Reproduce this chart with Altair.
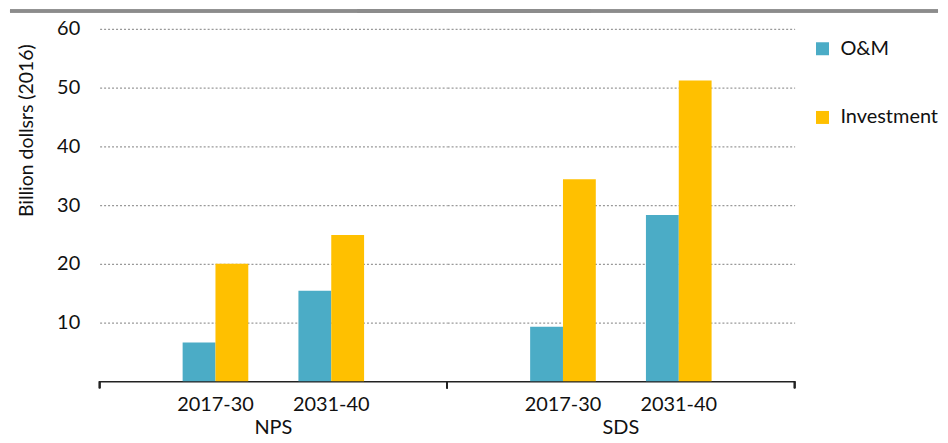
import altair as alt
import pandas as pd

scenarios = ["NPS", "SDS"]
periods = ["2017-30", "2031-40"]
series = ["O&M", "Investment"]
om_values = [6.6, 15.4, 9.3, 28.3]
inv_values = [20.0, 24.9, 34.4, 51.2]
y_ticks = [10, 20, 30, 40, 50, 60]
colors = ["#4BACC6", "#FFC000"]

rows = []
i = 0
for s in scenarios:
    for p in periods:
        rows.append({"scenario": s, "period": p, "series": "O&M", "value": om_values[i]})
        rows.append({"scenario": s, "period": p, "series": "Investment", "value": inv_values[i]})
        i += 1
df = pd.DataFrame(rows)

W = 349
H = 354
FONT = "Lato"

bars = alt.Chart().mark_bar().encode(
    x=alt.X(
        "period:N",
        sort=periods,
        scale=alt.Scale(paddingInner=0.433, paddingOuter=0.717),
        axis=alt.Axis(
            title=None, ticks=False, labelAngle=0, labelFontSize=20, labelFont=FONT,
            labelColor="#111", labelPadding=13, domainColor="#222", domainWidth=1.6,
        ),
    ),
    xOffset=alt.XOffset("series:N", sort=series, scale=alt.Scale(paddingInner=0, paddingOuter=0)),
    y=alt.Y(
        "value:Q",
        scale=alt.Scale(domain=[0, 60], nice=False),
        axis=alt.Axis(
            values=y_ticks, title="Billion dollsrs (2016)", titleFont=FONT, titleFontSize=19.5,
            titleFontWeight="normal", titleColor="#111", titleAnchor="end", titleY=15,
            titlePadding=20, labelFont=FONT, labelFontSize=20, labelColor="#111",
            labelPadding=20, ticks=False, domain=False, grid=True, gridColor="#999",
            gridDash=[2, 2], gridWidth=1.3,
        ),
    ),
    color=alt.Color(
        "series:N",
        sort=series,
        scale=alt.Scale(domain=series, range=colors),
        legend=alt.Legend(
            title=None, orient="none", legendX=716, legendY=10, symbolType="square",
            symbolSize=170, symbolStrokeWidth=0, labelFont=FONT, labelFontSize=20,
            labelColor="#111", labelOffset=8, rowPadding=49,
        ),
    ),
)

tick_left = alt.Chart().mark_rule(color="#222", strokeWidth=1.6).encode(
    x=alt.value(0), y=alt.value(H), y2=alt.value(H + 7)
)
tick_right = alt.Chart().mark_rule(color="#222", strokeWidth=1.6).encode(
    x=alt.value(W), y=alt.value(H), y2=alt.value(H + 7)
)
top_line = alt.Chart().mark_rule(color="#8c8c8c", strokeWidth=3).encode(
    x=alt.value(-90), x2=alt.value(W + 144), y=alt.value(-18)
)

chart = alt.layer(top_line, bars, tick_left, tick_right, data=df).properties(
    width=W, height=H
).facet(
    column=alt.Column(
        "scenario:N",
        sort=scenarios,
        header=alt.Header(title=None, labelOrient="bottom", labelFont=FONT,
                          labelFontSize=20, labelColor="#111", labelPadding=4),
    ),
    spacing=0,
    bounds="flush",
).configure_view(stroke=None).properties(padding=0)

chart.save("out.html", embed_options={"renderer": "svg", "actions": False})
